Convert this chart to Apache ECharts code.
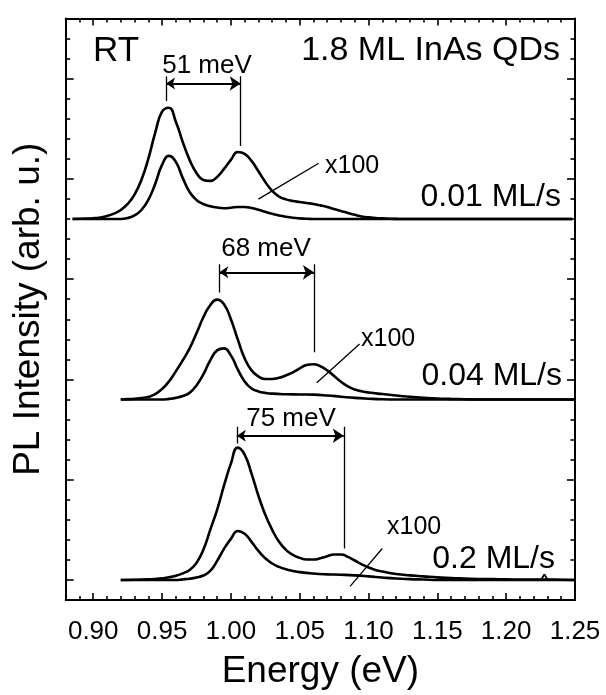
<!DOCTYPE html>
<html>
<head>
<meta charset="utf-8">
<script src="https://cdn.jsdelivr.net/npm/echarts@6/dist/echarts.min.js"></script>
<style>
html,body{margin:0;padding:0;background:#fff;}
#c{width:606px;height:695px;}
</style>
</head>
<body>
<div id="c"></div>
<script>
// ---- data ----
const xMajor = [0.90, 0.95, 1.00, 1.05, 1.10, 1.15, 1.20, 1.25];
const xMinor = [0.89,0.91,0.92,0.93,0.94,0.96,0.97,0.98,0.99,1.01,1.02,1.03,1.04,1.06,1.07,1.08,1.09,1.11,1.12,1.13,1.14,1.16,1.17,1.18,1.19,1.21,1.22,1.23,1.24];
const yMajor = [1, 6, 11, 16, 21, 26];
const yMinor = [2,3,4,5,7,8,9,10,12,13,14,15,17,18,19,20,22,23,24,25,27,28];
const baselines = [19, 10, 1];   // vertical offsets of the three panels
const rateLabels = ['0.01 ML/s', '0.04 ML/s', '0.2 ML/s'];

// [energy (eV), intensity above baseline]
const top_x100 = [[0.885,0],[0.890,0.01],[0.895,0.02],[0.900,0.04],[0.905,0.08],[0.910,0.15],[0.915,0.27],[0.920,0.45],[0.925,0.75],[0.930,1.22],[0.935,1.95],[0.940,3.0],[0.945,4.3],[0.950,5.35],[0.955,5.55],[0.960,4.85],[0.965,3.85],[0.970,2.95],[0.975,2.3],[0.980,1.95],[0.985,1.9],[0.990,2.1],[0.995,2.5],[1.000,2.95],[1.005,3.34],[1.010,3.25],[1.015,2.9],[1.020,2.38],[1.025,1.85],[1.030,1.4],[1.035,1.12],[1.040,0.98],[1.045,0.9],[1.050,0.85],[1.055,0.8],[1.060,0.75],[1.065,0.68],[1.070,0.6],[1.075,0.5],[1.080,0.4],[1.085,0.3],[1.090,0.21],[1.095,0.13],[1.100,0.08],[1.105,0.05],[1.110,0.03],[1.115,0.015],[1.120,0.005],[1.125,0],[1.248,0]];
const top_x1 = [[0.885,0],[0.920,0],[0.925,0.05],[0.930,0.18],[0.935,0.45],[0.940,0.95],[0.945,1.75],[0.950,2.7],[0.955,3.15],[0.960,2.85],[0.965,2.05],[0.970,1.35],[0.975,0.95],[0.980,0.75],[0.985,0.64],[0.990,0.57],[0.995,0.54],[1.000,0.56],[1.005,0.6],[1.010,0.6],[1.015,0.55],[1.020,0.46],[1.025,0.36],[1.030,0.26],[1.035,0.18],[1.040,0.11],[1.045,0.06],[1.050,0.03],[1.055,0.01],[1.060,0],[1.248,0]];
const mid_x100 = [[0.920,0],[0.925,0.02],[0.930,0.04],[0.935,0.07],[0.940,0.13],[0.945,0.27],[0.950,0.52],[0.955,0.9],[0.960,1.4],[0.965,1.95],[0.970,2.55],[0.975,3.3],[0.980,4.1],[0.985,4.7],[0.990,4.98],[0.995,4.75],[1.000,4.0],[1.005,3.0],[1.010,2.05],[1.015,1.45],[1.020,1.15],[1.025,1.02],[1.030,1.02],[1.035,1.08],[1.040,1.2],[1.045,1.35],[1.050,1.55],[1.055,1.72],[1.060,1.76],[1.065,1.66],[1.070,1.45],[1.075,1.17],[1.080,0.88],[1.085,0.65],[1.090,0.5],[1.095,0.41],[1.100,0.35],[1.110,0.27],[1.120,0.2],[1.130,0.14],[1.140,0.09],[1.150,0.05],[1.160,0.03],[1.170,0.015],[1.180,0],[1.250,0]];
const mid_x1 = [[0.920,0],[0.950,0],[0.955,0.03],[0.960,0.08],[0.965,0.17],[0.970,0.33],[0.975,0.7],[0.980,1.25],[0.985,1.95],[0.990,2.45],[0.995,2.55],[1.000,2.2],[1.005,1.5],[1.010,0.9],[1.015,0.55],[1.020,0.4],[1.025,0.33],[1.030,0.29],[1.040,0.26],[1.050,0.25],[1.060,0.24],[1.070,0.2],[1.080,0.14],[1.090,0.08],[1.100,0.04],[1.110,0.01],[1.120,0],[1.250,0]];
const bot_x100 = [[0.920,0],[0.930,0.01],[0.940,0.03],[0.945,0.05],[0.950,0.08],[0.955,0.13],[0.960,0.21],[0.965,0.33],[0.970,0.5],[0.975,0.85],[0.980,1.5],[0.985,2.5],[0.990,3.5],[0.995,4.7],[1.000,5.8],[1.005,6.6],[1.010,6.25],[1.015,5.3],[1.020,4.2],[1.025,3.25],[1.030,2.5],[1.035,1.9],[1.040,1.5],[1.045,1.25],[1.050,1.1],[1.055,1.02],[1.060,1.02],[1.065,1.08],[1.070,1.18],[1.075,1.27],[1.080,1.27],[1.085,1.15],[1.090,0.97],[1.095,0.78],[1.100,0.62],[1.105,0.5],[1.110,0.42],[1.120,0.3],[1.130,0.23],[1.140,0.18],[1.150,0.13],[1.160,0.09],[1.170,0.07],[1.180,0.05],[1.190,0.04],[1.200,0.03],[1.210,0.02],[1.225,0.02],[1.240,0.01],[1.250,0]];
const bot_spike = [[1.2255,0.02],[1.2278,0.28],[1.2300,0.02]];
const bot_x1 = [[0.920,0],[0.960,0],[0.965,0.03],[0.970,0.06],[0.975,0.12],[0.980,0.22],[0.985,0.45],[0.990,0.95],[0.995,1.55],[1.000,2.05],[1.005,2.44],[1.010,2.3],[1.015,1.9],[1.020,1.45],[1.025,1.08],[1.030,0.82],[1.035,0.65],[1.040,0.53],[1.045,0.45],[1.050,0.39],[1.060,0.32],[1.070,0.28],[1.080,0.26],[1.090,0.23],[1.100,0.18],[1.110,0.12],[1.120,0.07],[1.130,0.04],[1.140,0.02],[1.150,0],[1.250,0]];

// annotations (data coordinates)
const vLines = [[0.9529,26.12,24.88],[1.0071,26.12,22.64],[0.9916,16.75,15.34],[1.0603,16.75,12.36],[1.0043,8.64,7.8],[1.082,8.64,2.57]];
const arrows = [[0.9529,1.0071,25.76],[0.9916,1.0603,16.34],[1.0043,1.082,8.19]];
const pointers = [[1.020,19.99,1.0638,21.78],[1.0624,10.83,1.0935,12.77],[1.0866,0.68,1.110,2.57]];
const splitLabels = ['51 meV','68 meV','75 meV'];

// ---- chart ----
const FONT = "'Liberation Sans', Arial, Helvetica, sans-serif";
const chart = echarts.init(document.getElementById('c'), null, {renderer:'canvas'});
const spectra = [[top_x100, top_x1],[mid_x100, mid_x1],[bot_x100, bot_x1]];
const series = [];
spectra.forEach((pair, p) => {
  pair.forEach(curve => {
    series.push({
      type:'line', xAxisIndex:0, yAxisIndex:0,
      data: curve.map(d => [d[0], d[1] + baselines[p]]),
      showSymbol:false, smooth:0.5,
      lineStyle:{color:'#000', width:2.6}, silent:true, z:3
    });
  });
});
series.push({
  type:'line', xAxisIndex:0, yAxisIndex:0,
  data: bot_spike.map(d => [d[0], d[1] + baselines[2]]),
  showSymbol:false, smooth:false,
  lineStyle:{color:'#000', width:1.8}, silent:true, z:3
});
series.push({
  type:'lines', coordinateSystem:'cartesian2d', xAxisIndex:0, yAxisIndex:0,
  symbol:['none','none'], silent:true, z:4,
  lineStyle:{color:'#000', width:1.3, opacity:1},
  data: vLines.map(v => ({coords:[[v[0],v[1]],[v[0],v[2]]]}))
    .concat(pointers.map(p => ({coords:[[p[0],p[1]],[p[2],p[3]]]})))
});
series.push({
  type:'lines', coordinateSystem:'cartesian2d', xAxisIndex:0, yAxisIndex:0,
  symbol:['arrow','arrow'], symbolSize:[9,11], silent:true, z:4,
  lineStyle:{color:'#000', width:2.2, opacity:1},
  data: arrows.map(a => ({coords:[[a[0],a[2]],[a[1],a[2]]]}))
});

function xAx(pos, vals, len, showLine, labels){
  return {
    type:'value', min:0.88, max:1.25, position:pos, offset:0,
    axisLine:{show:showLine, onZero:false, lineStyle:{color:'#000', width:2}},
    axisTick:{show:true, inside:true, length:len, customValues:vals, lineStyle:{color:'#000', width:1.6}},
    axisLabel: labels ? {show:true, customValues:xMajor, formatter:v=>v.toFixed(2), fontSize:26, fontFamily:FONT, color:'#000', margin:19} : {show:false},
    splitLine:{show:false},
    name: labels ? 'Energy (eV)' : '', nameLocation:'middle', nameGap:53,
    nameTextStyle:{fontSize:37, fontFamily:FONT, color:'#000'}
  };
}
function yAx(pos, vals, len, showLine, title){
  return {
    type:'value', min:0, max:29, position:pos, offset:0,
    axisLine:{show:showLine, onZero:false, lineStyle:{color:'#000', width:2}},
    axisTick:{show:true, inside:true, length:len, customValues:vals, lineStyle:{color:'#000', width:1.6}},
    axisLabel:{show:false}, splitLine:{show:false},
    name: title ? 'PL Intensity (arb. u.)' : '', nameLocation:'middle', nameGap:18,
    nameTextStyle:{fontSize:37, fontFamily:FONT, color:'#000'}
  };
}

const txt = (s, x, y, fs, align) => ({
  type:'text', x:x, y:y, silent:true, z:10,
  style:{text:s, fontSize:fs, fontFamily:FONT, fill:'#000', textAlign:align, textVerticalAlign:'middle'}
});

chart.setOption({
  animation:false,
  backgroundColor:'#fff',
  grid:{left:65.7, top:18.5, width:509.3, height:583.2, containLabel:false},
  xAxis:[xAx('bottom', xMajor, 7, true, true), xAx('bottom', xMinor, 4, false, false),
         xAx('top', xMajor, 7, true, false), xAx('top', xMinor, 4, false, false)],
  yAxis:[yAx('left', yMajor, 8, true, true), yAx('left', yMinor, 4.5, false, false),
         yAx('right', yMajor, 8, true, false), yAx('right', yMinor, 4.5, false, false)],
  series: series,
  graphic:[
    txt('RT', 93, 51, 35, 'left'),
    txt('1.8 ML InAs QDs', 560, 51, 34, 'right'),
    txt(splitLabels[0], 207, 66, 26, 'center'),
    txt('x100', 325, 166, 25, 'left'),
    txt(rateLabels[0], 561, 197, 32, 'right'),
    txt(splitLabels[1], 266, 249, 26, 'center'),
    txt('x100', 361, 339, 25, 'left'),
    txt(rateLabels[1], 562, 376, 32, 'right'),
    txt(splitLabels[2], 291, 419, 26, 'center'),
    txt('x100', 387, 527, 25, 'left'),
    txt(rateLabels[2], 555, 559, 32, 'right')
  ]
});
</script>
</body>
</html>
